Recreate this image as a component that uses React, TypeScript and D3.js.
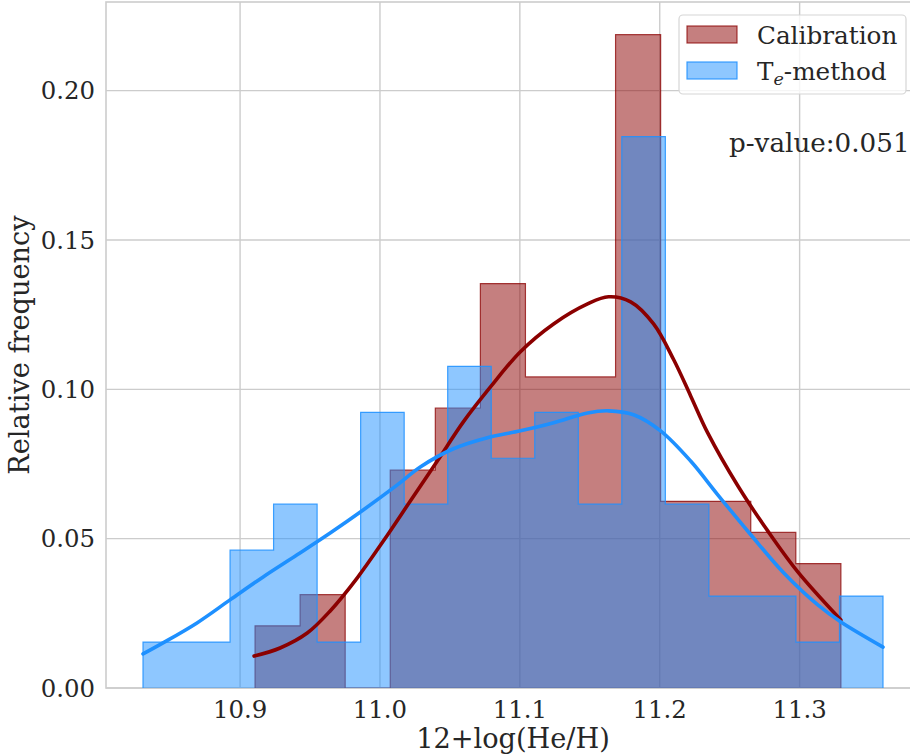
import React from "react";
import * as d3 from "d3";

// Histogram counts (equal-width bins between the given edges)
const calRange = [10.9107, 11.3295];
const calCounts = [2, 3, 0, 7, 9, 13, 10, 10, 21, 6, 6, 5, 4];
const teRange = [10.8306, 11.3596];
const teCounts = [1, 1, 3, 4, 1, 6, 4, 7, 5, 6, 4, 12, 4, 2, 2, 1, 2];

// Kernel density curves (x, relative frequency)
const calKdeX = [10.91, 10.9286, 10.948, 10.9644, 10.9838, 11.0024, 11.0217, 11.041, 11.0596, 11.079, 11.1004, 11.1241, 11.1484, 11.1634, 11.1792, 11.1956, 11.21, 11.2221, 11.2343, 11.2558, 11.2772, 11.2987, 11.3295];
const calKdeY = [0.0107, 0.0134, 0.0184, 0.0258, 0.0369, 0.0492, 0.0626, 0.076, 0.0891, 0.1008, 0.1126, 0.1219, 0.1286, 0.131, 0.1293, 0.1219, 0.1099, 0.0978, 0.0854, 0.0677, 0.0526, 0.0389, 0.0228];
const teKdeX = [10.8306, 10.8449, 10.8692, 10.8928, 10.9165, 10.9408, 10.9644, 10.988, 11.0124, 11.0288, 11.0525, 11.0768, 11.1004, 11.1241, 11.1484, 11.1634, 11.1813, 11.2006, 11.2221, 11.2415, 11.2651, 11.2887, 11.313, 11.3295, 11.3596];
const teKdeY = [0.0114, 0.0151, 0.0218, 0.0295, 0.0372, 0.0446, 0.0519, 0.0596, 0.068, 0.074, 0.0801, 0.0838, 0.0861, 0.0888, 0.0921, 0.0928, 0.0915, 0.0861, 0.076, 0.0647, 0.0513, 0.0385, 0.0278, 0.0221, 0.0137];

const xTicks = [10.9, 11.0, 11.1, 11.2, 11.3];
const yTicks = [0, 0.05, 0.1, 0.15, 0.2];
const xLabel = "12+log(He/H)";
const yLabel = "Relative frequency";
const pValueText = "p-value:0.051";

const W = 910;
const H = 756;
const FONT = "'DejaVu Serif', serif";
const TEXT = "#262626";
const GRID = "#cccccc";

const plot = { left: 106, right: 920, top: 2, bottom: 688 };

function histPoints(range: number[], counts: number[]) {
  const total = d3.sum(counts);
  const step = (range[1] - range[0]) / counts.length;
  const pts: [number, number][] = [[range[0], 0]];
  counts.forEach((c, i) => {
    const f = c / total;
    pts.push([range[0] + i * step, f]);
    pts.push([range[0] + (i + 1) * step, f]);
  });
  pts.push([range[1], 0]);
  return pts;
}

export default function App() {
  const span = teRange[1] - teRange[0];
  const x = d3
    .scaleLinear()
    .domain([teRange[0] - span * 0.05, teRange[1] + span * 0.05])
    .range([plot.left, plot.right]);
  const calHist = histPoints(calRange, calCounts);
  const teHist = histPoints(teRange, teCounts);
  const yMax = d3.max([...calHist, ...teHist], (p) => p[1])! * 1.05;
  const y = d3.scaleLinear().domain([0, yMax]).range([plot.bottom, plot.top]);

  const stepLine = d3
    .line<[number, number]>()
    .x((p) => x(p[0]))
    .y((p) => y(p[1]));
  const kdeLine = d3
    .line<[number, number]>()
    .x((p) => x(p[0]))
    .y((p) => y(p[1]))
    .curve(d3.curveCatmullRom.alpha(0.5));

  const calKde = calKdeX.map((v, i) => [v, calKdeY[i]] as [number, number]);
  const teKde = teKdeX.map((v, i) => [v, teKdeY[i]] as [number, number]);

  return (
    <svg
      width={W}
      height={H}
      style={{ position: "absolute", left: 0, top: 0, background: "#fff" }}
      fontFamily={FONT}
    >
      <defs>
        <clipPath id="plotArea">
          <rect x={plot.left} y={plot.top} width={plot.right - plot.left} height={plot.bottom - plot.top} />
        </clipPath>
      </defs>
      {/* grid */}
      <g stroke={GRID} strokeWidth={1.4}>
        {xTicks.map((t) => (
          <line key={"gx" + t} x1={x(t)} x2={x(t)} y1={plot.top} y2={plot.bottom} />
        ))}
        {yTicks.map((t) => (
          <line key={"gy" + t} x1={plot.left} x2={plot.right} y1={y(t)} y2={y(t)} />
        ))}
      </g>
      {/* spines */}
      <rect
        x={plot.left}
        y={plot.top}
        width={plot.right - plot.left}
        height={plot.bottom - plot.top}
        fill="none"
        stroke={GRID}
        strokeWidth={1.6}
      />
      <g clipPath="url(#plotArea)">
        <path d={stepLine(calHist)!} fill="darkred" fillOpacity={0.5} stroke="darkred" strokeOpacity={0.75} strokeWidth={1.2} />
        <path d={stepLine(teHist)!} fill="dodgerblue" fillOpacity={0.5} stroke="dodgerblue" strokeOpacity={0.85} strokeWidth={1.2} />
        <path d={kdeLine(calKde)!} fill="none" stroke="darkred" strokeWidth={3.6} strokeLinecap="round" />
        <path d={kdeLine(teKde)!} fill="none" stroke="dodgerblue" strokeWidth={3.6} strokeLinecap="round" />
      </g>
      {/* tick labels */}
      <g fill={TEXT} fontSize={24.4}>
        {xTicks.map((t) => (
          <text key={"tx" + t} x={x(t)} y={718} textAnchor="middle">
            {d3.format(".1f")(t)}
          </text>
        ))}
        {yTicks.map((t) => (
          <text key={"ty" + t} x={95} y={y(t)} dy="0.36em" textAnchor="end">
            {d3.format(".2f")(t)}
          </text>
        ))}
      </g>
      {/* axis labels */}
      <text x={(plot.left + plot.right) / 2} y={748} textAnchor="middle" fill={TEXT} fontSize={27.2}>
        {xLabel}
      </text>
      <text
        transform={`translate(29,${(plot.top + plot.bottom) / 2}) rotate(-90)`}
        textAnchor="middle"
        fill={TEXT}
        fontSize={27.2}
      >
        {yLabel}
      </text>
      {/* annotation */}
      <text x={729} y={152} fill={TEXT} fontSize={26.2}>
        {pValueText}
      </text>
      {/* legend */}
      <g>
        <rect x={679} y={15} width={227} height={79} rx={4} fill="#fff" fillOpacity={0.8} stroke="#d6d6d6" strokeWidth={1.2} />
        <rect x={687} y={26} width={50} height={17} fill="darkred" fillOpacity={0.5} stroke="darkred" strokeOpacity={0.75} strokeWidth={1.2} />
        <rect x={687} y={62} width={50} height={17} fill="dodgerblue" fillOpacity={0.5} stroke="dodgerblue" strokeOpacity={0.85} strokeWidth={1.2} />
        <text x={757} y={44} fill={TEXT} fontSize={24.7}>
          Calibration
        </text>
        <text x={757} y={80} fill={TEXT} fontSize={24.7}>
          T
          <tspan fontStyle="italic" fontSize={17.5} dy={5}>
            e
          </tspan>
          <tspan dy={-5}>-method</tspan>
        </text>
      </g>
    </svg>
  );
}
